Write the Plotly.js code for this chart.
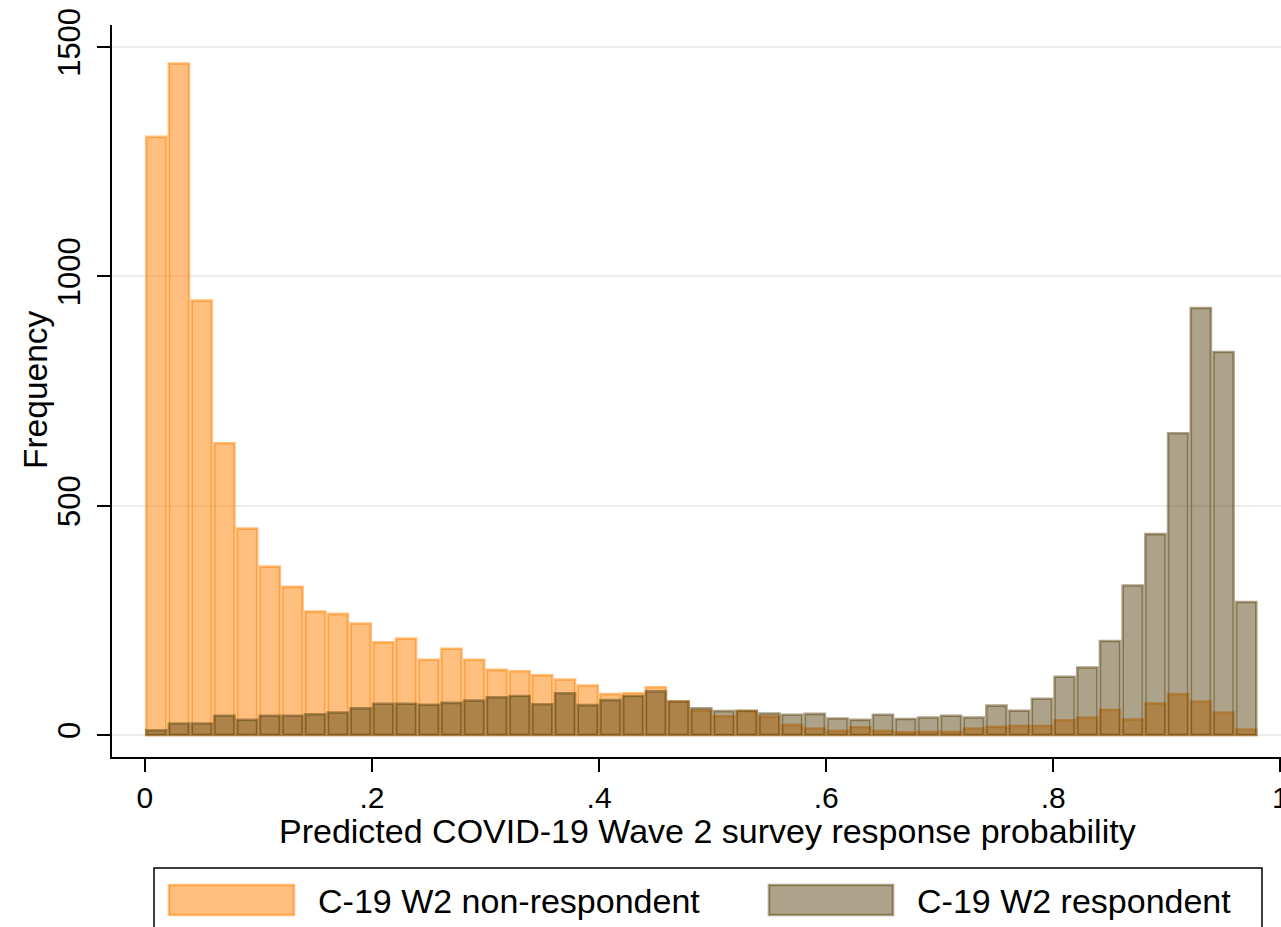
<!DOCTYPE html>
<html>
<head>
<meta charset="utf-8">
<script src="https://cdn.plot.ly/plotly-3.0.1.min.js"></script>
<style>
  html, body { margin: 0; padding: 0; background: #ffffff; }
  #chart { width: 1281px; height: 927px; }
</style>
</head>
<body>
<div id="chart"></div>
<script>
// ---- Data ----
// Bin centres of the histogram (bin width 0.02)
const binCenters = [
  0.01, 0.03, 0.05, 0.07, 0.09, 0.11, 0.13, 0.15, 0.17, 0.19,
  0.21, 0.23, 0.25, 0.27, 0.29, 0.31, 0.33, 0.35, 0.37, 0.39,
  0.41, 0.43, 0.45, 0.47, 0.49, 0.51, 0.53, 0.55, 0.57, 0.59,
  0.61, 0.63, 0.65, 0.67, 0.69, 0.71, 0.73, 0.75, 0.77, 0.79,
  0.81, 0.83, 0.85, 0.87, 0.89, 0.91, 0.93, 0.95, 0.97
];
// Frequencies: C-19 W2 non-respondent
const nonRespondent = [
  1304, 1464, 947, 636, 450, 367, 323, 269, 264, 243,
  202, 210, 164, 188, 164, 142, 139, 130, 121, 108,
  89, 91, 104, 73, 53, 41, 52, 40, 22, 14,
  9, 17, 9, 6, 7, 7, 14, 18, 20, 20,
  32, 38, 55, 34, 69, 89, 73, 49, 12
];
// Frequencies: C-19 W2 respondent
const respondent = [
  10, 25, 25, 42, 33, 42, 42, 45, 49, 58,
  68, 68, 66, 70, 75, 82, 85, 67, 91, 65,
  76, 85, 95, 73, 58, 52, 53, 47, 44, 46,
  36, 33, 44, 35, 38, 42, 38, 64, 53, 79,
  127, 147, 205, 326, 438, 658, 931, 835, 290
];
const seriesNames = ["C-19 W2 non-respondent", "C-19 W2 respondent"];
const xTitle = "Predicted COVID-19 Wave 2 survey response probability";
const yTitle = "Frequency";
const xTickVals = [0, 0.2, 0.4, 0.6, 0.8, 1];
const xTickText = ["0", ".2", ".4", ".6", ".8", "1"];
const yTickVals = [0, 500, 1000, 1500];
const yTickText = ["0", "500", "1000", "1500"];

// ---- Styles ----
const FONT = "Liberation Sans, Arial, Helvetica, sans-serif";
const orangeFill = "rgba(255,127,0,0.5)";
const greyFill = "rgba(91,71,21,0.5)";
const W = 1281, H = 927;
const M = { l: 112, r: 0, t: 25, b: 170 };
const plotW = W - M.l - M.r, plotH = H - M.t - M.b;
const px = x => (x - M.l) / plotW;          // pixel -> paper x
const py = y => (H - M.b - y) / plotH;      // pixel -> paper y

const barStyle = (c) => ({ color: c, line: { color: c, width: 2.6 } });

const traces = [
  { type: "bar", name: seriesNames[0], x: binCenters, y: nonRespondent,
    width: 0.0177, marker: barStyle(orangeFill), hoverinfo: "skip" },
  { type: "bar", name: seriesNames[1], x: binCenters, y: respondent,
    width: 0.0177, marker: barStyle(greyFill), hoverinfo: "skip" }
];

// Legend drawn as a Stata-like box
const shapes = [
  { type: "rect", xref: "paper", yref: "paper",
    x0: px(154), x1: px(1262), y0: py(940), y1: py(868),
    line: { color: "#000000", width: 1.5 }, fillcolor: "rgba(0,0,0,0)" },
  { type: "rect", xref: "paper", yref: "paper",
    x0: px(169), x1: px(294), y0: py(915), y1: py(885),
    line: { color: orangeFill, width: 2.6 }, fillcolor: orangeFill },
  { type: "rect", xref: "paper", yref: "paper",
    x0: px(769), x1: px(893), y0: py(915), y1: py(885),
    line: { color: greyFill, width: 2.6 }, fillcolor: greyFill }
];
const annotations = [
  { xref: "paper", yref: "paper", x: px(316), y: py(901), xanchor: "left", yanchor: "middle",
    text: seriesNames[0], showarrow: false, font: { family: FONT, size: 34, color: "#000" } },
  { xref: "paper", yref: "paper", x: px(915), y: py(901), xanchor: "left", yanchor: "middle",
    text: seriesNames[1], showarrow: false, font: { family: FONT, size: 34, color: "#000" } },
  { xref: "paper", yref: "paper", x: px(35), y: py(390), xanchor: "center", yanchor: "middle",
    textangle: -90, text: yTitle, showarrow: false, font: { family: FONT, size: 33.5, color: "#000" } },
  { xref: "paper", yref: "paper", x: px(707), y: py(831), xanchor: "center", yanchor: "middle",
    text: xTitle, showarrow: false, font: { family: FONT, size: 34, color: "#000" } }
];

const layout = {
  width: W, height: H,
  margin: M,
  paper_bgcolor: "#ffffff", plot_bgcolor: "#ffffff",
  barmode: "overlay",
  bargap: 0,
  showlegend: false,
  font: { family: FONT, color: "#000000" },
  xaxis: {
    range: [-0.029, 1.0006],
    tickmode: "array", tickvals: xTickVals, ticktext: xTickText,
    ticklabeloverflow: "allow",
    showgrid: false, zeroline: false,
    showline: true, linecolor: "#000000", linewidth: 2,
    ticks: "outside", ticklen: 13, tickwidth: 2, tickcolor: "#000000",
    tickfont: { family: FONT, size: 30, color: "#000" },
    automargin: false, fixedrange: true
  },
  yaxis: {
    range: [-48, 1548],
    tickmode: "array", tickvals: yTickVals, ticktext: yTickText,
    tickangle: -90,
    showgrid: true, gridcolor: "#ececec", gridwidth: 2,
    zeroline: false,
    showline: true, linecolor: "#000000", linewidth: 2,
    ticks: "outside", ticklen: 13, tickwidth: 2, tickcolor: "#000000",
    tickfont: { family: FONT, size: 31, color: "#000" },
    ticklabelstandoff: 5,
    automargin: false, fixedrange: true
  },
  shapes: shapes,
  annotations: annotations
};

Plotly.newPlot("chart", traces, layout, { displayModeBar: false, staticPlot: true });
</script>
</body>
</html>
